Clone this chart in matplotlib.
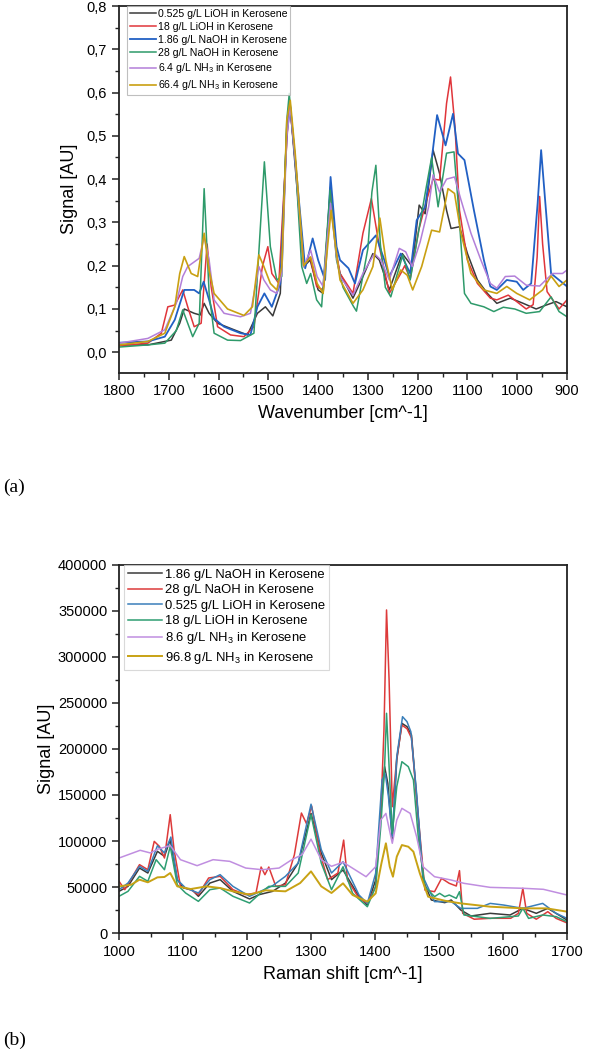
import matplotlib
matplotlib.use("Agg")
import matplotlib.pyplot as plt
from matplotlib.ticker import MultipleLocator, FuncFormatter

plt.rcParams['font.family'] = ['Liberation Sans', 'DejaVu Sans']
plt.rcParams['mathtext.fontset'] = 'custom'
plt.rcParams['mathtext.rm'] = 'Liberation Sans'
plt.rcParams['mathtext.it'] = 'Liberation Sans:italic'

# ---- (a) FTIR data ----
ir_x_liohlow = [1800, 1742, 1695, 1678, 1669, 1649, 1637, 1629, 1619, 1602, 1569, 1542, 1522, 1506, 1491, 1476,
                1463, 1456, 1446, 1429, 1416, 1400, 1390, 1375, 1363, 1356, 1330, 1310, 1290, 1277, 1257, 1231,
                1211, 1197, 1185, 1169, 1156, 1142, 1133, 1116, 1100, 1080, 1060, 1041, 1014, 988, 962, 942, 922, 900]
ir_y_liohlow = [0.017, 0.017, 0.028, 0.067, 0.100, 0.090, 0.086, 0.113, 0.090, 0.067, 0.052, 0.040, 0.090, 0.105,
                0.084, 0.136, 0.520, 0.567, 0.428, 0.198, 0.213, 0.144, 0.136, 0.382, 0.220, 0.182, 0.125, 0.175,
                0.228, 0.213, 0.144, 0.228, 0.198, 0.340, 0.320, 0.467, 0.413, 0.328, 0.286, 0.290, 0.228, 0.167,
                0.136, 0.113, 0.125, 0.113, 0.100, 0.109, 0.117, 0.105]

ir_x_liohhigh = [1800, 1742, 1715, 1702, 1688, 1672, 1662, 1649, 1635, 1623, 1615, 1602, 1576, 1549, 1529, 1512,
                 1501, 1493, 1479, 1469, 1458, 1446, 1429, 1416, 1403, 1390, 1375, 1363, 1356, 1330, 1310, 1293,
                 1277, 1257, 1234, 1226, 1215, 1198, 1182, 1169, 1156, 1142, 1134, 1125, 1116, 1100, 1080, 1054,
                 1041, 1018, 1001, 982, 968, 960, 955, 949, 940, 916, 900]
ir_y_liohhigh = [0.015, 0.021, 0.044, 0.105, 0.109, 0.144, 0.105, 0.059, 0.067, 0.250, 0.152, 0.059, 0.040, 0.036,
                 0.059, 0.198, 0.244, 0.182, 0.159, 0.367, 0.582, 0.444, 0.198, 0.220, 0.152, 0.144, 0.378, 0.228,
                 0.182, 0.136, 0.275, 0.355, 0.244, 0.136, 0.182, 0.200, 0.170, 0.282, 0.352, 0.400, 0.398, 0.575,
                 0.636, 0.520, 0.328, 0.213, 0.159, 0.125, 0.121, 0.132, 0.117, 0.100, 0.110, 0.220, 0.360, 0.250,
                 0.140, 0.100, 0.121]

ir_x_naohlow = [1800, 1742, 1708, 1688, 1669, 1649, 1639, 1630, 1619, 1609, 1589, 1556, 1536, 1522, 1508, 1493,
                1476, 1463, 1456, 1446, 1426, 1411, 1400, 1386, 1375, 1363, 1356, 1339, 1326, 1310, 1284, 1267,
                1257, 1234, 1215, 1202, 1185, 1172, 1161, 1144, 1129, 1119, 1106, 1087, 1067, 1054, 1041, 1021,
                1001, 988, 972, 959, 952, 944, 932, 900]
ir_y_naohlow = [0.022, 0.025, 0.036, 0.075, 0.144, 0.144, 0.136, 0.163, 0.121, 0.078, 0.059, 0.044, 0.040, 0.105,
                0.136, 0.105, 0.159, 0.505, 0.567, 0.444, 0.194, 0.263, 0.213, 0.167, 0.405, 0.244, 0.213, 0.194,
                0.159, 0.236, 0.270, 0.213, 0.175, 0.228, 0.182, 0.305, 0.336, 0.444, 0.548, 0.478, 0.551, 0.459,
                0.444, 0.328, 0.213, 0.152, 0.144, 0.167, 0.163, 0.144, 0.159, 0.344, 0.467, 0.352, 0.182, 0.152]

ir_x_naohhigh = [1800, 1742, 1708, 1685, 1672, 1662, 1652, 1639, 1629, 1619, 1609, 1582, 1556, 1529, 1516, 1508,
                 1496, 1483, 1473, 1463, 1458, 1446, 1433, 1423, 1415, 1403, 1393, 1376, 1363, 1350, 1329, 1323,
                 1300, 1292, 1284, 1275, 1265, 1254, 1230, 1215, 1185, 1172, 1159, 1142, 1127, 1119, 1106, 1093,
                 1067, 1047, 1028, 1005, 982, 955, 932, 916, 900]
ir_y_naohhigh = [0.012, 0.017, 0.021, 0.050, 0.098, 0.067, 0.036, 0.067, 0.378, 0.136, 0.044, 0.028, 0.027, 0.044,
                 0.290, 0.440, 0.244, 0.167, 0.175, 0.536, 0.598, 0.444, 0.198, 0.159, 0.182, 0.121, 0.105, 0.375,
                 0.213, 0.150, 0.106, 0.095, 0.240, 0.370, 0.432, 0.250, 0.150, 0.128, 0.225, 0.167, 0.367, 0.450,
                 0.336, 0.460, 0.463, 0.350, 0.136, 0.113, 0.105, 0.094, 0.104, 0.100, 0.090, 0.094, 0.128, 0.094,
                 0.082]

ir_x_nh3low = [1800, 1742, 1708, 1685, 1672, 1662, 1639, 1629, 1619, 1609, 1589, 1556, 1536, 1519, 1509, 1496,
               1483, 1473, 1463, 1456, 1446, 1429, 1415, 1402, 1390, 1375, 1363, 1356, 1330, 1310, 1287, 1274,
               1257, 1237, 1224, 1211, 1195, 1178, 1169, 1156, 1142, 1126, 1113, 1093, 1073, 1054, 1041, 1024,
               1005, 982, 955, 929, 909, 900]
ir_y_nh3low = [0.021, 0.032, 0.052, 0.113, 0.175, 0.198, 0.217, 0.267, 0.213, 0.121, 0.090, 0.082, 0.090, 0.198,
               0.167, 0.144, 0.136, 0.182, 0.498, 0.567, 0.444, 0.198, 0.236, 0.175, 0.152, 0.344, 0.220, 0.175,
               0.132, 0.182, 0.228, 0.213, 0.167, 0.240, 0.232, 0.198, 0.255, 0.336, 0.410, 0.370, 0.400, 0.405,
               0.352, 0.275, 0.213, 0.159, 0.148, 0.175, 0.176, 0.155, 0.153, 0.182, 0.182, 0.190]

ir_x_nh3high = [1800, 1742, 1708, 1688, 1678, 1669, 1655, 1642, 1629, 1619, 1609, 1582, 1549, 1532, 1519, 1509,
                1496, 1483, 1473, 1463, 1456, 1446, 1429, 1415, 1402, 1390, 1374, 1363, 1356, 1330, 1310, 1290,
                1276, 1264, 1251, 1234, 1221, 1210, 1192, 1172, 1156, 1139, 1126, 1113, 1093, 1067, 1041, 1021,
                1001, 975, 949, 932, 916, 900]
ir_y_nh3high = [0.017, 0.025, 0.044, 0.105, 0.182, 0.221, 0.182, 0.175, 0.275, 0.190, 0.136, 0.100, 0.085, 0.105,
                0.225, 0.198, 0.159, 0.144, 0.198, 0.536, 0.582, 0.459, 0.200, 0.220, 0.159, 0.136, 0.328, 0.228,
                0.167, 0.113, 0.144, 0.198, 0.310, 0.213, 0.144, 0.190, 0.178, 0.144, 0.198, 0.282, 0.278, 0.378,
                0.367, 0.275, 0.182, 0.144, 0.136, 0.152, 0.136, 0.121, 0.144, 0.176, 0.152, 0.167]

ir_labels = ['0.525 g/L LiOH in Kerosene', '18 g/L LiOH in Kerosene', '1.86 g/L NaOH in Kerosene',
             '28 g/L NaOH in Kerosene', '6.4 g/L NH$_3$ in Kerosene', '66.4 g/L NH$_3$ in Kerosene']

# ---- (b) Raman data ----
ra_x_naohlow = [1000, 1014, 1032, 1045, 1060, 1071, 1080, 1091, 1101, 1114, 1124, 1142, 1158, 1178, 1204, 1219,
                1240, 1260, 1280, 1300, 1316, 1332, 1350, 1375, 1388, 1401, 1409, 1415, 1420, 1427, 1434, 1442,
                1450, 1457, 1465, 1475, 1488, 1509, 1519, 1534, 1550, 1580, 1611, 1631, 1652, 1670, 1700]
ra_y_naohlow = [45300, 50700, 70600, 65200, 88800, 83300, 101400, 58000, 48900, 47100, 39900, 54300, 58000, 45300,
                37000, 41700, 45300, 54300, 76100, 130000, 87000, 58000, 68500, 39500, 30400, 57600, 130000, 180800,
                162700, 101100, 188000, 227900, 224300, 215200, 148200, 57600, 35900, 33000, 35900, 25000, 18500,
                21400, 19600, 26800, 21400, 26800, 14100]

ra_x_naohhigh = [1000, 1009, 1032, 1045, 1055, 1063, 1071, 1080, 1086, 1096, 1114, 1124, 1140, 1158, 1178, 1198,
                 1214, 1222, 1228, 1234, 1245, 1260, 1274, 1285, 1293, 1301, 1314, 1326, 1342, 1351, 1357, 1375,
                 1388, 1401, 1409, 1414, 1418, 1422, 1427, 1434, 1442, 1450, 1457, 1465, 1478, 1493, 1504, 1516,
                 1527, 1532, 1537, 1555, 1581, 1612, 1624, 1631, 1637, 1652, 1670, 1683, 1700]
ra_y_naohhigh = [56200, 47100, 74300, 68800, 99600, 94200, 81500, 128600, 90600, 50700, 46400, 41700, 59800, 61600,
                 47100, 41700, 43500, 71700, 63400, 71700, 50700, 52500, 85100, 130400, 118800, 138000, 87000, 58000,
                 65200, 101000, 57600, 37700, 32200, 50400, 130000, 220700, 351100, 275000, 137300, 190000, 226000,
                 222000, 212000, 146000, 46700, 44900, 59400, 54000, 51100, 67800, 21400, 15000, 16000, 16000, 21400,
                 48600, 21400, 15000, 23200, 15900, 11000]

ra_x_liohlow = [1000, 1014, 1032, 1045, 1060, 1071, 1081, 1091, 1104, 1124, 1142, 1158, 1178, 1204, 1240, 1260,
                1280, 1300, 1316, 1332, 1350, 1375, 1388, 1401, 1411, 1416, 1421, 1427, 1434, 1443, 1450, 1456,
                1465, 1475, 1493, 1519, 1534, 1560, 1580, 1601, 1631, 1662, 1683, 1700]
ra_y_liohlow = [47100, 54300, 72500, 67000, 94900, 87000, 104300, 58000, 48900, 43500, 58000, 63400, 50700, 39900,
                51400, 61600, 76100, 140000, 90600, 65200, 77500, 41300, 32200, 64900, 166300, 173600, 148200,
                104700, 191700, 235100, 229700, 218800, 151800, 61200, 34100, 34100, 26800, 26800, 32200, 30400,
                26800, 32200, 21400, 15900]

ra_x_liohhigh = [1000, 1014, 1032, 1045, 1058, 1071, 1080, 1091, 1104, 1124, 1142, 1158, 1178, 1204, 1224, 1234,
                 1260, 1280, 1300, 1316, 1332, 1350, 1365, 1388, 1401, 1409, 1415, 1418, 1422, 1427, 1434, 1442,
                 1452, 1460, 1468, 1478, 1493, 1501, 1509, 1516, 1527, 1532, 1539, 1580, 1624, 1631, 1640, 1662,
                 1683, 1700]
ra_y_liohhigh = [39900, 45300, 61600, 56200, 79700, 68800, 94200, 52500, 43500, 34400, 47100, 48900, 39900, 32600,
                 45300, 50700, 50700, 65200, 128600, 76100, 47100, 72000, 43100, 28600, 50400, 115600, 180800,
                 238800, 180800, 108300, 159100, 186200, 180800, 166300, 101100, 50400, 39500, 43100, 39500, 41300,
                 37700, 44900, 19600, 15900, 18500, 26800, 15900, 19600, 17800, 12300]

ra_x_nh3low = [1000, 1033, 1049, 1060, 1080, 1096, 1122, 1147, 1173, 1198, 1224, 1250, 1270, 1286, 1300, 1316,
               1332, 1350, 1386, 1401, 1409, 1417, 1427, 1434, 1442, 1455, 1465, 1475, 1493, 1519, 1539, 1580,
               1632, 1663, 1700]
ra_y_nh3low = [81500, 89900, 87000, 91000, 95000, 79700, 73200, 79700, 77900, 70600, 68800, 70600, 79700, 85100,
               102000, 79700, 72500, 77000, 61200, 72100, 122800, 130000, 97500, 122800, 135500, 130000, 104700,
               72100, 61200, 57600, 54000, 49600, 48600, 47500, 41300]

ra_x_nh3high = [1000, 1019, 1032, 1045, 1060, 1071, 1080, 1091, 1112, 1137, 1158, 1178, 1204, 1229, 1260, 1283,
                1300, 1316, 1332, 1350, 1365, 1388, 1401, 1410, 1417, 1423, 1428, 1434, 1442, 1452, 1460, 1470,
                1483, 1509, 1534, 1580, 1632, 1668, 1700]
ra_y_nh3high = [50700, 52500, 58000, 55100, 60500, 60900, 65200, 50700, 47800, 50700, 48900, 45300, 41700, 46400,
                45300, 54300, 67000, 50700, 43500, 54000, 41300, 34100, 43100, 75700, 97500, 72100, 61200, 83000,
                95600, 93800, 88400, 64900, 39500, 35100, 32200, 28600, 26800, 26800, 23200]

ra_labels = ['1.86 g/L NaOH in Kerosene', '28 g/L NaOH in Kerosene', '0.525 g/L LiOH in Kerosene',
             '18 g/L LiOH in Kerosene', '8.6 g/L NH$_3$ in Kerosene', '96.8 g/L NH$_3$ in Kerosene']

fig = plt.figure(figsize=(5.91, 10.57), dpi=100)
ax1 = fig.add_axes([0.2014, 0.6475, 0.758, 0.3468])
ax2 = fig.add_axes([0.2014, 0.1173, 0.758, 0.3482])

# (a)
ax1.plot(ir_x_liohlow, ir_y_liohlow, color='#3a3a3a', lw=1.1, label=ir_labels[0])
ax1.plot(ir_x_liohhigh, ir_y_liohhigh, color='#e0353a', lw=1.1, label=ir_labels[1])
ax1.plot(ir_x_naohlow, ir_y_naohlow, color='#2160c4', lw=1.3, label=ir_labels[2])
ax1.plot(ir_x_naohhigh, ir_y_naohhigh, color='#2e9a6a', lw=1.1, label=ir_labels[3])
ax1.plot(ir_x_nh3low, ir_y_nh3low, color='#b37fd9', lw=1.1, label=ir_labels[4])
ax1.plot(ir_x_nh3high, ir_y_nh3high, color='#c9a012', lw=1.2, label=ir_labels[5])
ax1.set_xlim(1800, 900)
ax1.set_ylim(-0.047, 0.8)
ax1.xaxis.set_major_locator(MultipleLocator(100))
ax1.xaxis.set_minor_locator(MultipleLocator(50))
ax1.yaxis.set_major_locator(MultipleLocator(0.1))
ax1.yaxis.set_minor_locator(MultipleLocator(0.05))
ax1.yaxis.set_major_formatter(FuncFormatter(lambda v, p: f'{v:.1f}'.replace('.', ',')))
ax1.set_xlabel('Wavenumber [cm^-1]', fontsize=13, labelpad=5)
ax1.set_ylabel('Signal [AU]', fontsize=13, labelpad=6)
leg1 = ax1.legend(loc='upper left', bbox_to_anchor=(0.018, 1.0), borderaxespad=0, fontsize=7.6,
                  frameon=True, fancybox=False, edgecolor='#b0b0b0', handlelength=2.5, handletextpad=0.15,
                  labelspacing=0.3, borderpad=0.25)
leg1.get_frame().set_linewidth(0.8)

# (b)
ax2.plot(ra_x_naohlow, ra_y_naohlow, color='#3a3a3a', lw=1.1, label=ra_labels[0])
ax2.plot(ra_x_naohhigh, ra_y_naohhigh, color='#dd3a3a', lw=1.1, label=ra_labels[1])
ax2.plot(ra_x_liohlow, ra_y_liohlow, color='#3a7fba', lw=1.1, label=ra_labels[2])
ax2.plot(ra_x_liohhigh, ra_y_liohhigh, color='#2e9e72', lw=1.1, label=ra_labels[3])
ax2.plot(ra_x_nh3low, ra_y_nh3low, color='#c08ee0', lw=1.1, label=ra_labels[4])
ax2.plot(ra_x_nh3high, ra_y_nh3high, color='#c8a214', lw=1.4, label=ra_labels[5])
ax2.set_xlim(1000, 1700)
ax2.set_ylim(0, 400000)
ax2.xaxis.set_major_locator(MultipleLocator(100))
ax2.xaxis.set_minor_locator(MultipleLocator(50))
ax2.yaxis.set_major_locator(MultipleLocator(50000))
ax2.yaxis.set_minor_locator(MultipleLocator(25000))
ax2.set_xlabel('Raman shift [cm^-1]', fontsize=13, labelpad=5)
ax2.set_ylabel('Signal [AU]', fontsize=13, labelpad=2)
leg2 = ax2.legend(loc='upper left', bbox_to_anchor=(0.011, 1.0), borderaxespad=0, fontsize=9.4,
                  frameon=True, fancybox=False, edgecolor='#d0d0d0', handlelength=2.6, handletextpad=0.25,
                  labelspacing=0.25, borderpad=0.3)
leg2.get_frame().set_linewidth(0.8)

for ax in (ax1, ax2):
    for s in ax.spines.values():
        s.set_linewidth(1.3)
        s.set_color('#222222')
    ax.tick_params(which='both', direction='out', top=False, right=False, labelsize=10.5, color='#222222')
    ax.tick_params(which='major', length=5, width=1.1)
    ax.tick_params(which='minor', length=3, width=1.0)

fig.text(0.005, 0.539, '(a)', family='Liberation Serif', fontsize=14, va='center')
fig.text(0.005, 0.016, '(b)', family='Liberation Serif', fontsize=14, va='center')

fig.savefig('out.png', dpi=100)
